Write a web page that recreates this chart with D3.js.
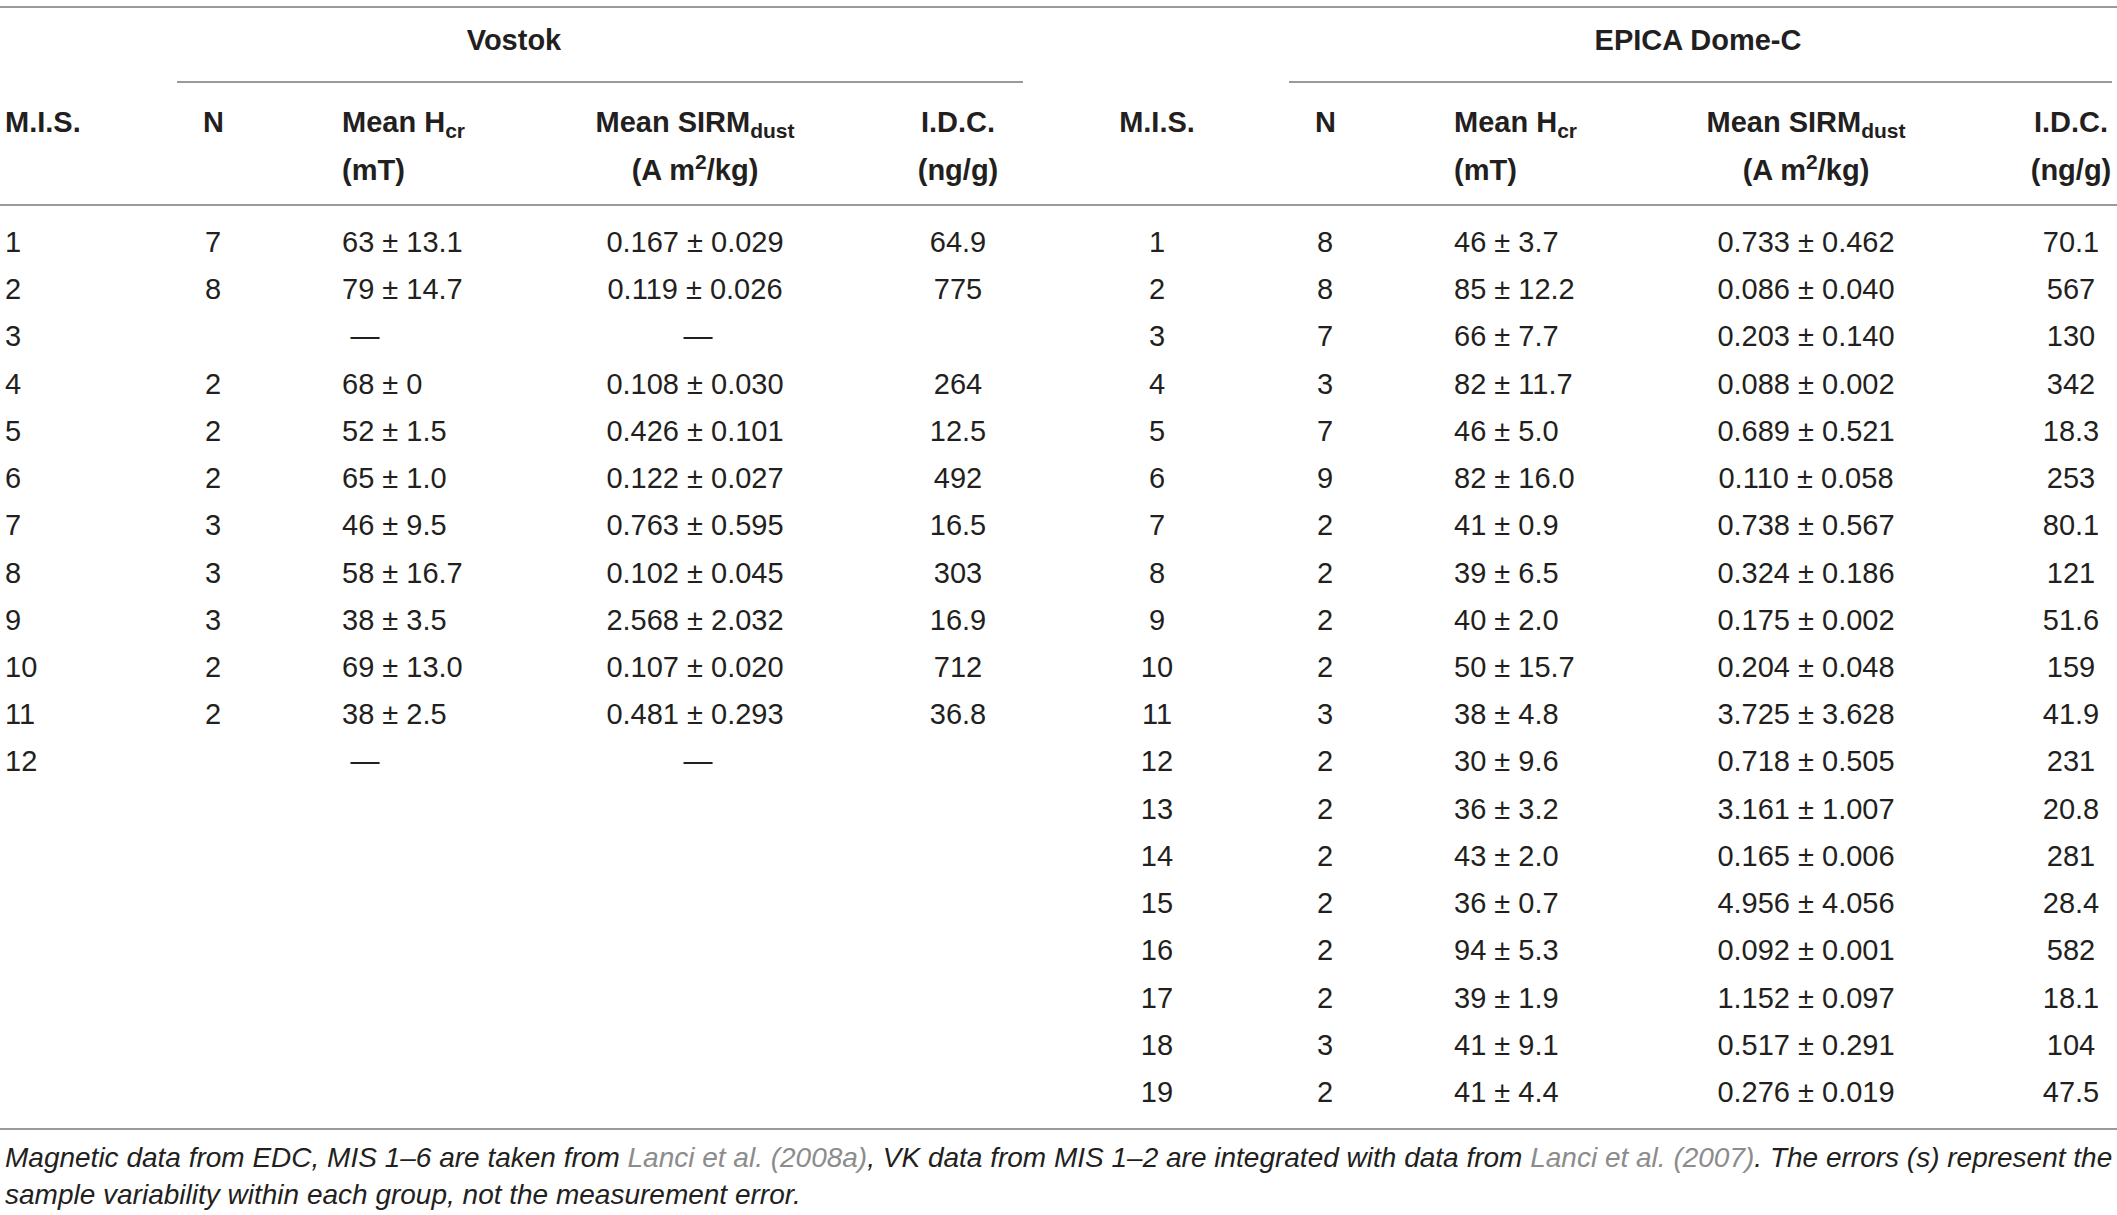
<!DOCTYPE html>
<html>
<head>
<meta charset="utf-8">
<script src="https://cdn.jsdelivr.net/npm/d3@7"></script>
<style>
  body { margin: 0; background: #fff; }
  text { font-family: "Liberation Sans", Arial, sans-serif; fill: #231f20; }
  .head { font-weight: bold; }
  .cell { font-weight: normal; }
  .note { font-style: italic; }
</style>
</head>
<body>
<div class="canvas"></div>
<script>
const dims = {
    width: 2117,
    height: 1215,
    cellFont: 29,
    headFont: 29,
    subFont: 21,
    noteFont: 28,
    lineColour: '#9a9a9a'
};

// Vostok
const vostokMis = [1, 2, 3, 4, 5, 6, 7, 8, 9, 10, 11, 12];
const vostokN = [7, 8, null, 2, 2, 2, 3, 3, 3, 2, 2, null];
const vostokHcrMean = [63, 79, null, 68, 52, 65, 46, 58, 38, 69, 38, null];
const vostokHcrErr = [13.1, 14.7, null, 0, 1.5, 1.0, 9.5, 16.7, 3.5, 13.0, 2.5, null];
const vostokSirmMean = [0.167, 0.119, null, 0.108, 0.426, 0.122, 0.763, 0.102, 2.568, 0.107, 0.481, null];
const vostokSirmErr = [0.029, 0.026, null, 0.030, 0.101, 0.027, 0.595, 0.045, 2.032, 0.020, 0.293, null];
const vostokIdc = [64.9, 775, null, 264, 12.5, 492, 16.5, 303, 16.9, 712, 36.8, null];

// EPICA Dome-C
const edcMis = [1, 2, 3, 4, 5, 6, 7, 8, 9, 10, 11, 12, 13, 14, 15, 16, 17, 18, 19];
const edcN = [8, 8, 7, 3, 7, 9, 2, 2, 2, 2, 3, 2, 2, 2, 2, 2, 2, 3, 2];
const edcHcrMean = [46, 85, 66, 82, 46, 82, 41, 39, 40, 50, 38, 30, 36, 43, 36, 94, 39, 41, 41];
const edcHcrErr = [3.7, 12.2, 7.7, 11.7, 5.0, 16.0, 0.9, 6.5, 2.0, 15.7, 4.8, 9.6, 3.2, 2.0, 0.7, 5.3, 1.9, 9.1, 4.4];
const edcSirmMean = [0.733, 0.086, 0.203, 0.088, 0.689, 0.110, 0.738, 0.324, 0.175, 0.204, 3.725, 0.718, 3.161, 0.165, 4.956, 0.092, 1.152, 0.517, 0.276];
const edcSirmErr = [0.462, 0.040, 0.140, 0.002, 0.521, 0.058, 0.567, 0.186, 0.002, 0.048, 3.628, 0.505, 1.007, 0.006, 4.056, 0.001, 0.097, 0.291, 0.019];
const edcIdc = [70.1, 567, 130, 342, 18.3, 253, 80.1, 121, 51.6, 159, 41.9, 231, 20.8, 281, 28.4, 582, 18.1, 104, 47.5];

const groupTitles = ['Vostok', 'EPICA Dome-C'];
const noteLine1 = [
    { t: 'Magnetic data from EDC, MIS 1–6 are taken from ' },
    { t: 'Lanci et al. (2008a)', link: true },
    { t: ', VK data from MIS 1–2 are integrated with data from ' },
    { t: 'Lanci et al. (2007)', link: true },
    { t: '. The errors (s) represent the' }
];
const noteLine2 = 'sample variability within each group, not the measurement error.';

const f1 = d3.format('.1f');
const f3 = d3.format('.3f');
const fmtErr = v => v === 0 ? '0' : f1(v);

const svg = d3.select('.canvas')
    .append('svg')
    .attr('width', dims.width)
    .attr('height', dims.height);

const y = d3.scalePoint()
    .domain(d3.range(edcMis.length))
    .range([242, 1092]);

// column positions for each block
const blocks = [
    {
        title: groupTitles[0], titleX: 514, lineX: [177, 1023],
        mis: { x: 5, anchor: 'start' }, n: { x: 203 }, hcr: { x: 342 }, sirm: { x: 695 }, idc: { x: 958 },
        data: { mis: vostokMis, n: vostokN, hm: vostokHcrMean, he: vostokHcrErr, sm: vostokSirmMean, se: vostokSirmErr, idc: vostokIdc }
    },
    {
        title: groupTitles[1], titleX: 1698, lineX: [1289, 2112],
        mis: { x: 1157, anchor: 'middle' }, n: { x: 1315 }, hcr: { x: 1454 }, sirm: { x: 1806 }, idc: { x: 2071 },
        data: { mis: edcMis, n: edcN, hm: edcHcrMean, he: edcHcrErr, sm: edcSirmMean, se: edcSirmErr, idc: edcIdc }
    }
];

const hline = (x1, x2, yy) => svg.append('line')
    .attr('x1', x1).attr('x2', x2).attr('y1', yy).attr('y2', yy)
    .attr('stroke', dims.lineColour).attr('stroke-width', 2);

hline(0, dims.width, 7);
hline(0, dims.width, 205);
hline(0, dims.width, 1129);

const headY1 = 132, headY2 = 180;

blocks.forEach(b => {
    hline(b.lineX[0], b.lineX[1], 82);

    svg.append('text').attr('class', 'head')
        .attr('x', b.titleX).attr('y', 50)
        .attr('text-anchor', 'middle')
        .style('font-size', dims.headFont + 'px')
        .text(b.title);

    const head = (x, yy, anchor) => svg.append('text').attr('class', 'head')
        .attr('x', x).attr('y', yy)
        .attr('text-anchor', anchor)
        .style('font-size', dims.headFont + 'px');

    head(b.mis.x, headY1, b.mis.anchor).text('M.I.S.');
    head(b.n.x, headY1, 'start').text('N');

    const hcrHead = head(b.hcr.x, headY1, 'start');
    hcrHead.append('tspan').text('Mean H');
    hcrHead.append('tspan').attr('dy', 6).style('font-size', dims.subFont + 'px').text('cr');
    head(b.hcr.x, headY2, 'start').text('(mT)');

    const sirmHead = head(b.sirm.x, headY1, 'middle');
    sirmHead.append('tspan').text('Mean SIRM');
    sirmHead.append('tspan').attr('dy', 6).style('font-size', dims.subFont + 'px').text('dust');
    const unitHead = head(b.sirm.x, headY2, 'middle');
    unitHead.append('tspan').text('(A m');
    unitHead.append('tspan').attr('dy', -11).style('font-size', dims.subFont + 'px').text('2');
    unitHead.append('tspan').attr('dy', 11).text('/kg)');

    head(b.idc.x, headY1, 'middle').text('I.D.C.');
    head(b.idc.x, headY2, 'middle').text('(ng/g)');

    const d = b.data;
    const rows = svg.append('g').selectAll('g')
        .data(d.mis.map((m, i) => ({
            i, mis: m, n: d.n[i], hm: d.hm[i], he: d.he[i], sm: d.sm[i], se: d.se[i], idc: d.idc[i]
        })))
        .join('g')
        .attr('transform', r => `translate(0, ${y(r.i) + 10})`);

    const cell = (sel, x, anchor) => sel.append('text').attr('class', 'cell')
        .attr('x', x).attr('text-anchor', anchor)
        .style('font-size', dims.cellFont + 'px');

    cell(rows, b.mis.x, b.mis.anchor).text(r => r.mis);
    cell(rows.filter(r => r.n !== null), b.n.x + 2, 'start').text(r => r.n);
    cell(rows.filter(r => r.hm !== null), b.hcr.x, 'start').text(r => `${r.hm} ± ${fmtErr(r.he)}`);
    cell(rows.filter(r => r.hm === null), b.hcr.x + 23, 'middle').text('—');
    cell(rows.filter(r => r.sm !== null), b.sirm.x, 'middle').text(r => `${f3(r.sm)} ± ${f3(r.se)}`);
    cell(rows.filter(r => r.sm === null), b.sirm.x + 3, 'middle').text('—');
    cell(rows.filter(r => r.idc !== null), b.idc.x, 'middle').text(r => r.idc);
});

const note1 = svg.append('text').attr('class', 'note')
    .attr('x', 5).attr('y', 1167)
    .style('font-size', dims.noteFont + 'px');
noteLine1.forEach(p => {
    note1.append('tspan').style('fill', p.link ? '#8c8c8c' : '#231f20').text(p.t);
});
svg.append('text').attr('class', 'note')
    .attr('x', 5).attr('y', 1204)
    .style('font-size', dims.noteFont + 'px')
    .text(noteLine2);
</script>
</body>
</html>
